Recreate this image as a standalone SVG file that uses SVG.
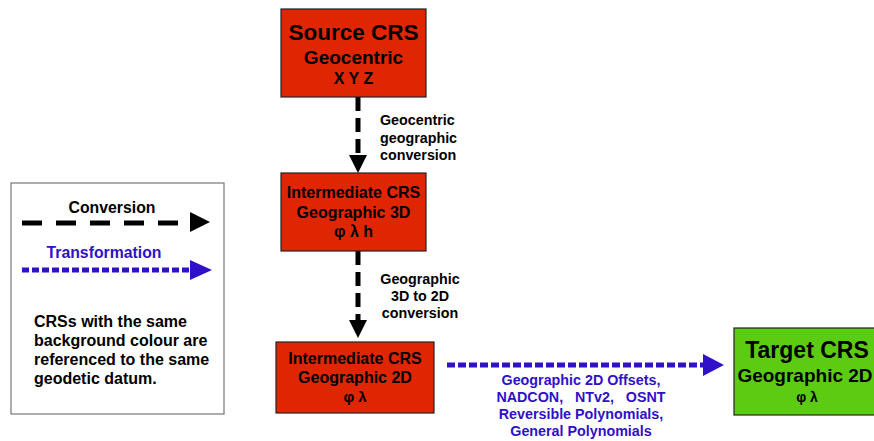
<svg xmlns="http://www.w3.org/2000/svg" width="874" height="441" viewBox="0 0 874 441">
<defs>
<style>
text{font-family:"Liberation Sans",Arial,sans-serif;font-weight:bold;text-anchor:middle;fill:#000}
.red{fill:#e02600;stroke:#222;stroke-width:1.2}
.green{fill:#5ccc12;stroke:#222;stroke-width:1.2}
.conv{stroke:#000;stroke-width:5;fill:none;stroke-dasharray:14 7}
.trans{stroke:#3010c8;stroke-width:5;fill:none;stroke-dasharray:8 3}
.lbl{font-size:14.3px}
.blue{fill:#3010c8}
.leg{font-size:16px;text-anchor:start}
.box{font-size:16px}
</style>
</defs>
<rect width="874" height="441" fill="#fff"/>

<g id="legend">
<rect x="11" y="183" width="213" height="231" fill="#fff" stroke="#777" stroke-width="1.2"/>
<text x="112" y="213" style="font-size:15.8px">Conversion</text>
<line x1="22" y1="223" x2="188" y2="223" stroke="#000" stroke-width="5" stroke-dasharray="20 14"/>
<path d="M190,212 L210,222 L190,232 Z" fill="#000"/>
<text x="104" y="258" class="blue" style="font-size:15.8px">Transformation</text>
<line x1="22" y1="270" x2="190" y2="270" stroke="#3010c8" stroke-width="5" stroke-dasharray="7 3"/>
<path d="M190,260 L212,270 L190,280 Z" fill="#3010c8"/>
<text x="34" y="327" class="leg">CRSs with the same</text>
<text x="34" y="346" class="leg">background colour are</text>
<text x="34" y="365" class="leg">referenced to the same</text>
<text x="34" y="384" class="leg">geodetic datum.</text>
</g>

<g id="connectors">
<line class="conv" x1="358" y1="97" x2="358" y2="156"/>
<path d="M349,155 L367,155 L358,173 Z" fill="#000"/>
<line class="conv" x1="358" y1="251" x2="358" y2="321"/>
<path d="M349,320 L367,320 L358,338 Z" fill="#000"/>
<line class="trans" x1="447" y1="365" x2="704" y2="365"/>
<path d="M703,354 L724,365 L703,376 Z" fill="#3010c8"/>
<text class="lbl" x="380" y="125" style="text-anchor:start">Geocentric</text>
<text class="lbl" x="380" y="143" style="text-anchor:start">geographic</text>
<text class="lbl" x="380" y="160" style="text-anchor:start">conversion</text>
<text class="lbl" x="420" y="284">Geographic</text>
<text class="lbl" x="420" y="301">3D to 2D</text>
<text class="lbl" x="420" y="318">conversion</text>
<text class="lbl blue" x="581" y="385">Geographic 2D Offsets,</text>
<text class="lbl blue" x="581" y="402" xml:space="preserve">NADCON,   NTv2,   OSNT</text>
<text class="lbl blue" x="581" y="419">Reversible Polynomials,</text>
<text class="lbl blue" x="581" y="436">General Polynomials</text>
</g>

<g id="source">
<rect class="red" x="281" y="9" width="145" height="88"/>
<text x="353.5" y="40" style="font-size:22.5px">Source CRS</text>
<text x="353.5" y="64" style="font-size:19px">Geocentric</text>
<text x="353.5" y="84" style="font-size:16px">X Y Z</text>
</g>

<g id="inter3d">
<rect class="red" x="281" y="173" width="145" height="78"/>
<text x="353.5" y="198" class="box">Intermediate CRS</text>
<text x="353.5" y="218" class="box">Geographic 3D</text>
<text x="353.5" y="237" class="box">φ λ h</text>
</g>

<g id="inter2d">
<rect class="red" x="276" y="342" width="158" height="71"/>
<text x="355" y="364" class="box">Intermediate CRS</text>
<text x="355" y="383" class="box">Geographic 2D</text>
<text x="355" y="402" style="font-size:15px">φ λ</text>
</g>

<g id="target">
<rect class="green" x="734" y="328" width="150" height="87"/>
<text x="807" y="358" style="font-size:23px">Target CRS</text>
<text x="805" y="382" style="font-size:19px">Geographic 2D</text>
<text x="807" y="402" style="font-size:14px">φ λ</text>
</g>
</svg>
